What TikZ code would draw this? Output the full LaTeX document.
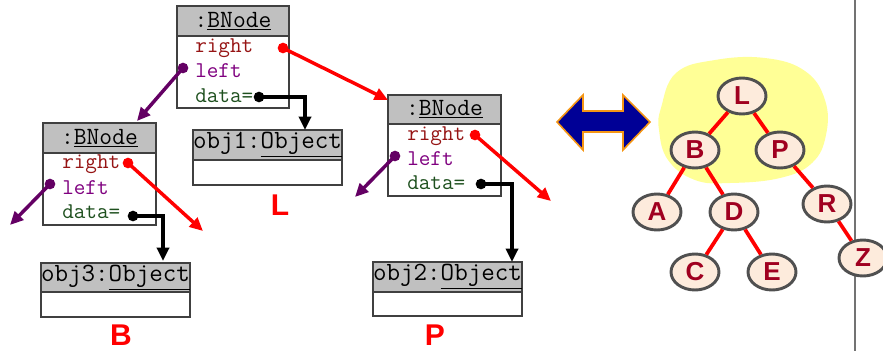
\documentclass[tikz,border=0pt]{standalone}
\usepackage{fontspec}
\setmainfont{Liberation Sans}
\usetikzlibrary{arrows.meta,fit,shapes.geometric}
\definecolor{hdrgray}{RGB}{192,192,192}
\definecolor{boxline}{RGB}{64,64,64}
\definecolor{rightred}{RGB}{150,20,20}
\definecolor{leftpurple}{RGB}{128,0,128}
\definecolor{arrowpurple}{RGB}{100,0,100}
\definecolor{datagreen}{RGB}{30,80,30}
\definecolor{blobyellow}{RGB}{255,255,150}
\definecolor{treefill}{RGB}{253,235,220}
\definecolor{treeline}{RGB}{80,80,80}
\definecolor{treeletter}{RGB}{160,0,32}
\definecolor{arrowblue}{RGB}{0,0,150}
\definecolor{arroworange}{RGB}{245,150,20}
\begin{document}
\begin{tikzpicture}[x=0.75pt,y=-0.75pt,
  hdr/.style={draw=boxline, fill=hdrgray, line width=0.9pt, inner sep=0pt},
  bodybox/.style={draw=boxline, fill=white, line width=0.9pt, inner sep=0pt},
  hdrtxt/.style={inner sep=0pt, font=\ttfamily\fontsize{18.6}{20}\selectfont},
  objtxt/.style={inner sep=0pt, font=\ttfamily\fontsize{19.7}{21}\selectfont},
  fieldtxt/.style={anchor=west, inner sep=0pt, font=\ttfamily\fontsize{16.9}{18}\selectfont},
  rtxt/.style={fieldtxt, text=rightred},
  ltxt/.style={fieldtxt, text=leftpurple},
  dtxt/.style={fieldtxt, text=datagreen},
  dot/.style={circle, inner sep=0pt, minimum size=8pt},
  tip/.style={-{Triangle[length=10pt,width=9pt]}},
  redarrow/.style={draw=red, line width=2.6pt, tip},
  purplearrow/.style={draw=arrowpurple, line width=2.6pt, tip},
  dataarrow/.style={draw=black, line width=2.6pt, tip},
  biglabel/.style={inner sep=0pt, text=red, font=\bfseries\fontsize{22.5}{24}\selectfont},
  treenode/.style={ellipse, draw=treeline, fill=treefill, line width=2.2pt,
    minimum width=36pt, minimum height=27pt, inner sep=0pt,
    text=treeletter, font=\bfseries\fontsize{19.5}{20}\selectfont},
  treeedge/.style={draw=red, line width=2.8pt}
]
\useasboundingbox (0,0) rectangle (883,351);

% ---------- object boxes ----------
% node L
\node[hdr, fit={(177,6)(289,36)}] (Lh) {};
\node[bodybox, fit={(177,36)(289,108)}] (Lb) {};
\node[hdrtxt] at (Lh.center) {:\underline{BNode}};
\node[rtxt] (Lrt) at (195,48) {right};
\node[ltxt] (Llt) at (195,71) {left};
\node[dtxt] (Ldt) at (195,96) {data=};

% node B
\node[hdr, fit={(43,123)(156,153)}] (Bh) {};
\node[bodybox, fit={(43,153)(156,225)}] (Bb) {};
\node[hdrtxt] at (Bh.center) {:\underline{BNode}};
\node[rtxt] (Brt) at (62,164) {right};
\node[ltxt] (Blt) at (62,188) {left};
\node[dtxt] (Bdt) at (62,212) {data=};

% node P
\node[hdr, fit={(388,95)(501,124)}] (Ph) {};
\node[bodybox, fit={(388,124)(501,196)}] (Pb) {};
\node[hdrtxt] at (Ph.center) {:\underline{BNode}};
\node[rtxt] (Prt) at (407,136) {right};
\node[ltxt] (Plt) at (407,159) {left};
\node[dtxt] (Pdt) at (407,183) {data=};

% data objects
\node[hdr, fit={(193,130)(342,160)}] (O1h) {};
\node[bodybox, fit={(193,160)(342,185)}] (O1b) {};
\node[objtxt] at (O1h.center) {obj1:\underline{Object}};

\node[hdr, fit={(373,262)(522,292)}] (O2h) {};
\node[bodybox, fit={(373,292)(522,316)}] (O2b) {};
\node[objtxt] at (O2h.center) {obj2:\underline{Object}};

\node[hdr, fit={(41,263)(190,292)}] (O3h) {};
\node[bodybox, fit={(41,292)(190,317)}] (O3b) {};
\node[objtxt] at (O3h.center) {obj3:\underline{Object}};

% names under the objects
\node[biglabel] (labL) at (280,205) {L};
\node[biglabel] (labB) at (121,335) {B};
\node[biglabel] (labP) at (435,335) {P};

% ---------- reference dots ----------
\node[dot, fill=red] (Lr) at (283,48) {};
\node[dot, fill=arrowpurple] (Ll) at (183,68) {};
\node[dot, fill=black] (Ld) at (259,97) {};
\node[dot, fill=red] (Br) at (128,163) {};
\node[dot, fill=arrowpurple] (Bl) at (50,184) {};
\node[dot, fill=black] (Bd) at (133,216) {};
\node[dot, fill=red] (Pr) at (475,135) {};
\node[dot, fill=arrowpurple] (Pl) at (395,156) {};
\node[dot, fill=black] (Pd) at (481,184) {};

% targets and loose ends
\coordinate (Lrto) at (388,100);
\coordinate (Llto) at (137,121);
\coordinate (Ldto) at (305,130);
\coordinate (Brto) at (203,231);
\coordinate (Blto) at (10,225);
\coordinate (Bdto) at (163,261);
\coordinate (Prto) at (551,201);
\coordinate (Plto) at (355,197);
\coordinate (Pdto) at (512,262);

% ---------- references ----------
\draw[redarrow] (Lr.center) -- (Lrto);
\draw[purplearrow] (Ll.center) -- (Llto);
\draw[dataarrow] (Ld.center) -| (Ldto);
\draw[redarrow] (Br.center) -- (Brto);
\draw[purplearrow] (Bl.center) -- (Blto);
\draw[dataarrow] (Bd.center) -| (Bdto);
\draw[redarrow] (Pr.center) -- (Prto);
\draw[purplearrow] (Pl.center) -- (Plto);
\draw[dataarrow] (Pd.center) -| (Pdto);

% ---------- double arrow ----------
\draw[fill=arrowblue, draw=arroworange, line width=1.2pt, line join=miter]
  (557,122) -- (583,95) -- (583,111) -- (623,111) -- (623,95) -- (650,122)
  -- (623,150) -- (623,132) -- (583,132) -- (583,150) -- cycle;

% ---------- tree ----------
\fill[blobyellow] plot[smooth cycle, tension=0.7] coordinates {
  (661,108) (676,73) (715,60) (765,58) (805,71) (825,100) (826,135)
  (812,163) (780,178) (730,183) (695,180) (668,160) (659,130)};

\draw[gray!90!black, line width=1.5pt] (855,0) -- (855,351);

\node[treenode] (tL) at (742,96) {L};
\node[treenode] (tB) at (695,150) {B};
\node[treenode] (tP) at (780,150) {P};
\node[treenode] (tA) at (657,212) {A};
\node[treenode] (tD) at (734,212) {D};
\node[treenode] (tR) at (827,204) {R};
\node[treenode] (tC) at (695,272) {C};
\node[treenode] (tE) at (772,272) {E};
\node[treenode] (tZ) at (863,258) {Z};

\draw[treeedge] (tL) -- (tB);
\draw[treeedge] (tL) -- (tP);
\draw[treeedge] (tB) -- (tA);
\draw[treeedge] (tB) -- (tD);
\draw[treeedge] (tD) -- (tC);
\draw[treeedge] (tD) -- (tE);
\draw[treeedge] (tP) -- (tR);
\draw[treeedge] (tR) -- (tZ);
\end{tikzpicture}
\end{document}
